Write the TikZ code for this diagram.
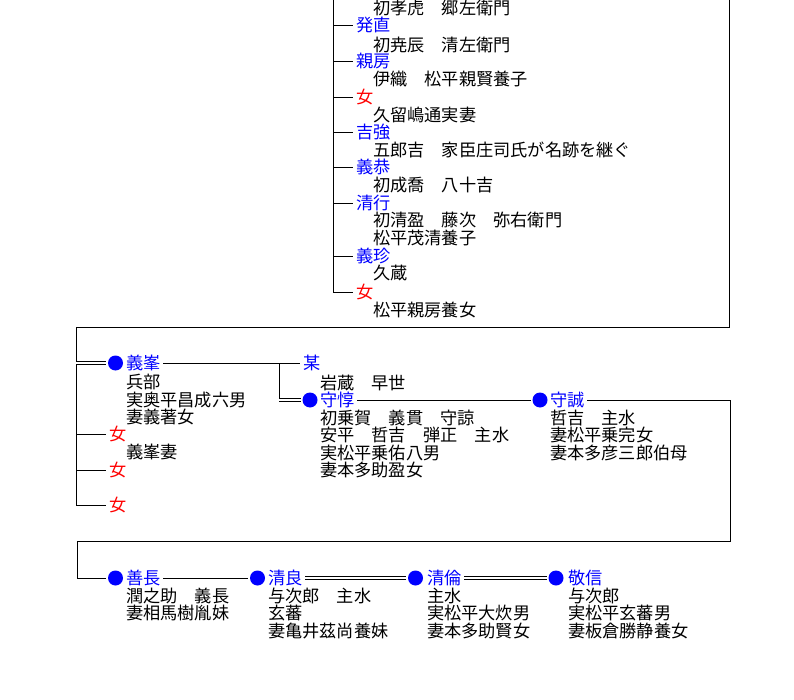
\documentclass[tikz,border=0pt]{standalone}
\usepackage{fontspec}
\setmainfont{Noto Sans CJK JP}
\newcommand*{\kafont}{\fontsize{17.2}{17.7}\selectfont}
\definecolor{N}{rgb}{0.00,0.00,1.00}
\definecolor{F}{rgb}{1.00,0.00,0.00}
\definecolor{black}{rgb}{0.00,0.00,0.00}
\usepackage{tikz}
\tikzstyle{base}=[x=1pt, y=-1pt, line width=0.8pt, inner sep=0pt, outer sep=0pt, font=\kafont]
\tikzstyle{mei}=[anchor=west, text=N, inner xsep=3pt]
\tikzstyle{jo}=[anchor=west, text=F, inner xsep=3pt]
\tikzstyle{sub}=[anchor=west]
\tikzstyle{dot}=[circle, fill=N, minimum size=15pt, outer sep=2pt]
\tikzstyle{dbl}=[double, double distance=1.8pt]

\begin{document}
\begin{tikzpicture}[base]
    \path [use as bounding box] (0,0) rectangle (794,700);
    % upper column
    \coordinate (bar) at (333,0);
    \node [sub] (prev-s) at (373,8) {初孝虎　郷左衛門};
    \node [mei] (hatsunao) at (353,25) {発直};
    \node [sub] (hatsunao-s) at (373,45) {初尭辰　清左衛門};
    \node [mei] (chikafusa) at (353,61) {親房};
    \node [sub] (chikafusa-s) at (373,79) {伊織　松平親賢養子};
    \node [jo] (jo-a) at (353,97) {女};
    \node [sub] (jo-a-s) at (373,115) {久留嶋通実妻};
    \node [mei] (yoshitsuyo) at (353,132) {吉強};
    \node [sub] (yoshitsuyo-s) at (373,150) {五郎吉　家臣庄司氏が名跡を継ぐ};
    \node [mei] (yoshiyasu) at (353,167) {義恭};
    \node [sub] (yoshiyasu-s) at (373,185) {初成喬　八十吉};
    \node [mei] (kiyoyuki) at (353,203) {清行};
    \node [sub] (kiyoyuki-s1) at (373,220) {初清盈　藤次　弥右衛門};
    \node [sub] (kiyoyuki-s2) at (373,238) {松平茂清養子};
    \node [mei] (yoshiharu) at (353,256) {義珍};
    \node [sub] (yoshiharu-s) at (373,273) {久蔵};
    \node [jo] (jo-b) at (353,292) {女};
    \node [sub] (jo-b-s) at (373,310) {松平親房養女};
    \draw [black] (bar) -- (bar |- jo-b.west);
    \foreach \n in {hatsunao,chikafusa,jo-a,yoshitsuyo,yoshiyasu,kiyoyuki,yoshiharu,jo-b}
        \draw [black] (bar |- \n.west) -- (\n.west);

    % middle row
    \coordinate (cont) at (729,0);
    \coordinate (lbar) at (76,327);
    \node [dot] (d-yoshimine) at (115.5,363) {};
    \node [mei] (yoshimine) at (123,363) {義峯};
    \foreach \t [count=\k] in {兵部,実奥平昌成六男,妻義著女}
        \node [sub] (yoshimine-s\k) at (126,364.5+17.6*\k) {\t};
    \node [jo] (jo-c) at (106,434) {女};
    \node [sub] (jo-c-s) at (126,452) {義峯妻};
    \node [jo] (jo-d) at (106,470) {女};
    \node [jo] (jo-e) at (106,505) {女};
    \draw [black] (cont) |- (lbar);
    \draw [black] (lbar) -- (lbar |- jo-e.west);
    \foreach \n in {jo-c,jo-d,jo-e}
        \draw [black] (lbar |- \n.west) -- (\n.west);
    \draw [black, dbl] (lbar |- d-yoshimine) -- (d-yoshimine.west);

    \coordinate (br) at (279,363);
    \node [mei] (bou) at (300,363) {某};
    \node [sub] (bou-s) at (320,383) {岩蔵　早世};
    \node [dot] (d-moriatsu) at (310,400) {};
    \node [mei] (moriatsu) at (317,400) {守惇};
    \foreach \t [count=\k] in {初乗賀　義貫　守諒,安平　哲吉　弾正　主水,実松平乗佑八男,妻本多助盈女}
        \node [sub] (moriatsu-s\k) at (320,400+17.6*\k) {\t};
    \node [dot] (d-morinobu) at (540,400) {};
    \node [mei] (morinobu) at (547,400) {守誠};
    \foreach \t [count=\k] in {哲吉　主水,妻松平乗完女,妻本多彦三郎伯母}
        \node [sub] (morinobu-s\k) at (550,400+17.6*\k) {\t};
    \draw [black] (yoshimine.east) -- (yoshimine.east -| bou.west);
    \draw [black] (br) -- (br |- d-moriatsu);
    \draw [black, dbl] (br |- d-moriatsu) -- (d-moriatsu.west);
    \draw [black] (moriatsu.east) -- (moriatsu.east -| d-morinobu.west);

    % lower row
    \coordinate (r2) at (730,541);
    \coordinate (l2) at (77,541);
    \node [dot] (d-yoshinaga) at (115.5,578) {};
    \node [mei] (yoshinaga) at (123,578) {善長};
    \foreach \t [count=\k] in {潤之助　義長,妻相馬樹胤妹}
        \node [sub] (yoshinaga-s\k) at (126,578+17.6*\k) {\t};
    \node [dot] (d-kiyoyoshi) at (257.5,578) {};
    \node [mei] (kiyoyoshi) at (265,578) {清良};
    \foreach \t [count=\k] in {与次郎　主水,玄蕃,妻亀井茲尚養妹}
        \node [sub] (kiyoyoshi-s\k) at (268,578+17.6*\k) {\t};
    \node [dot] (d-kiyotomo) at (415.5,578) {};
    \node [mei] (kiyotomo) at (424,578) {清倫};
    \foreach \t [count=\k] in {主水,実松平大炊男,妻本多助賢女}
        \node [sub] (kiyotomo-s\k) at (427,578+17.6*\k) {\t};
    \node [dot] (d-takanobu) at (556,578) {};
    \node [mei] (takanobu) at (565,578) {敬信};
    \foreach \t [count=\k] in {与次郎,実松平玄蕃男,妻板倉勝静養女}
        \node [sub] (takanobu-s\k) at (568,578+17.6*\k) {\t};
    \draw [black] (morinobu.east) -- (morinobu.east -| r2) -- (r2) -- (l2) -- (l2 |- d-yoshinaga) -- (d-yoshinaga.west);
    \draw [black] (yoshinaga.east) -- (yoshinaga.east -| d-kiyoyoshi.west);
    \draw [black, dbl] (kiyoyoshi.east) -- (kiyoyoshi.east -| d-kiyotomo.west);
    \draw [black, dbl] (kiyotomo.east) -- (kiyotomo.east -| d-takanobu.west);
\end{tikzpicture}
\end{document}
